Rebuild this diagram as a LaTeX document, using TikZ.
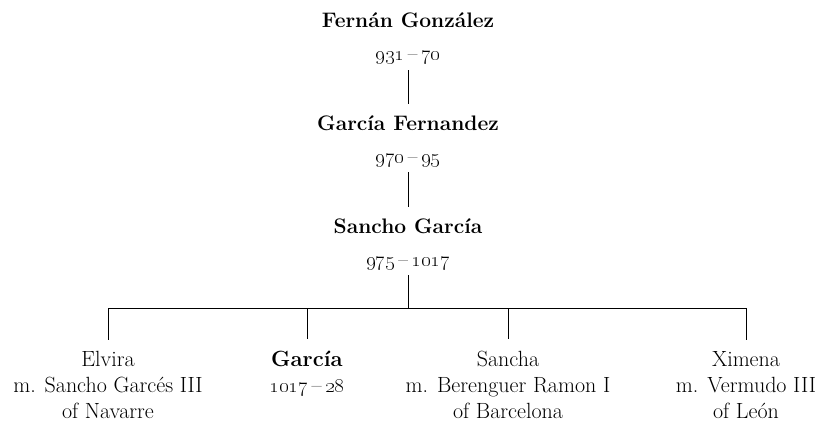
\documentclass[tikz,border=0pt]{standalone}
\usepackage{tikz}

\begin{document}
\begin{tikzpicture}[x=1pt, y=-1pt, every node/.style={font=\fontsize{21}{26}\selectfont}]
  \tikzset{person/.style={align=center, anchor=base, inner xsep=0pt, inner ysep=5pt},
    child/.style={person, font=\fontsize{22}{26}\selectfont},
    link/.style={line width=0.8pt},
    down/.style={link, shorten >=6pt}}
  \useasboundingbox (0,0) rectangle (821,425);
  % counts of Castile
  \node[person] (fg) at (408,61) {\textbf{Fernán González}\\[7pt]\oldstylenums{931}\,\textendash\,\oldstylenums{70}};
  \node[person] (gf) at (408,163) {\textbf{García Fernandez}\\[7pt]\oldstylenums{970}\,\textendash\,\oldstylenums{95}};
  \node[person] (sg) at (408,266) {\textbf{Sancho García}\\[7pt]\oldstylenums{975}\,\textendash\,\oldstylenums{1017}};
  % children
  \node[child] (el) at (108,418) {Elvira\\m. Sancho Garcés III\\of Navarre};
  \node[child] (ga) at (307,392) {\textbf{García}\\\oldstylenums{1017}\,\textendash\,\oldstylenums{28}};
  \node[child] (sa) at (508,418) {Sancha\\m. Berenguer Ramon I\\of Barcelona};
  \node[child] (xi) at (746,418) {Ximena\\m. Vermudo III\\of León};
  \coordinate (bar) at (408,308);
  \draw[down] (fg) -- (gf);
  \draw[down] (gf) -- (sg);
  \draw[link] (sg) -- (bar);
  \draw[link] (bar -| el) -- (bar -| xi);
  \foreach \c in {el,ga,sa,xi}
    \draw[down] (bar -| \c) -- (\c.north);
\end{tikzpicture}
\end{document}
